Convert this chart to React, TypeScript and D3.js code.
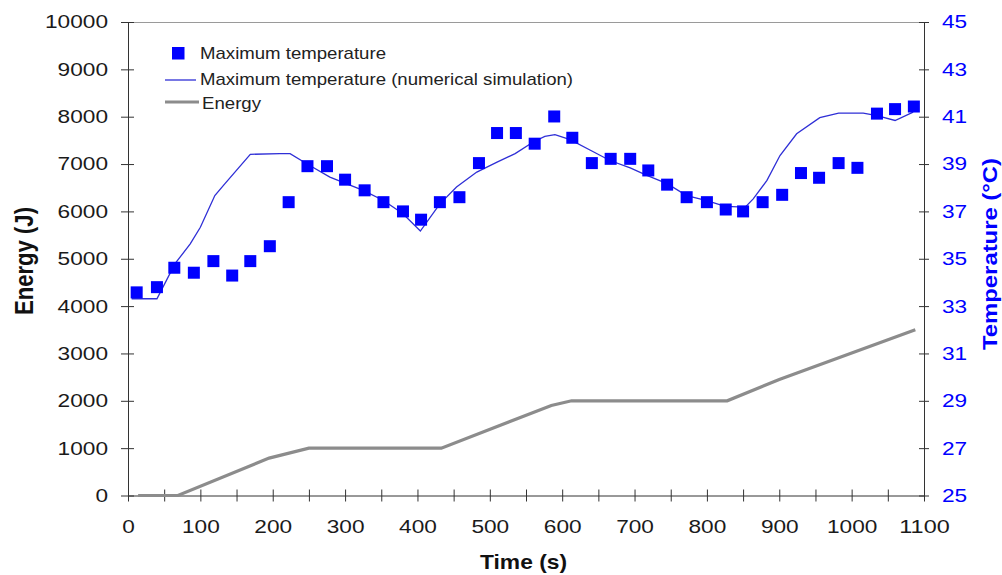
import React, { useEffect, useRef } from 'react';
import * as d3 from 'd3';

// measured maximum temperature (°C) over time (s)
const measTime = [12, 40, 64, 91, 118, 144, 169, 196, 222, 248, 275, 300, 327, 353, 380, 405, 431, 458, 485, 510, 536, 562, 589, 614, 641, 667, 694, 719, 745, 772, 800, 826, 850, 877, 904, 930, 955, 982, 1008, 1035, 1060, 1086];
const measTemp = [33.58, 33.8, 34.62, 34.41, 34.9, 34.29, 34.9, 35.53, 37.39, 38.91, 38.91, 38.34, 37.89, 37.39, 37.0, 36.65, 37.39, 37.6, 39.04, 40.31, 40.31, 39.86, 41.01, 40.11, 39.04, 39.22, 39.22, 38.73, 38.13, 37.6, 37.39, 37.08, 37.0, 37.39, 37.7, 38.62, 38.42, 39.04, 38.84, 41.13, 41.32, 41.43];

// numerical simulation
const simTime = [5, 40, 65, 86, 100, 120, 134, 169, 210, 224, 247, 279, 325, 353, 380, 404, 431, 454, 482, 510, 535, 560, 576, 590, 611, 641, 666, 694, 717, 745, 772, 800, 825, 853, 864, 883, 901, 924, 956, 982, 1016, 1035, 1060, 1085];
const simTemp = [33.31, 33.31, 34.79, 35.63, 36.33, 37.67, 38.17, 39.41, 39.44, 39.44, 39.01, 38.45, 37.89, 37.46, 36.9, 36.17, 37.32, 38.03, 38.66, 39.08, 39.44, 39.93, 40.17, 40.24, 40.03, 39.55, 39.15, 38.84, 38.52, 38.17, 37.67, 37.46, 37.21, 37.18, 37.53, 38.31, 39.36, 40.28, 40.96, 41.15, 41.15, 41.05, 40.84, 41.19];

// energy (J)
const energyTime = [14, 69, 195, 250, 433, 585, 613, 828, 900, 1088];
const energyValue = [0, 0, 790, 1000, 1000, 1900, 2000, 2000, 2450, 3500];

const energyTicks = [0, 1000, 2000, 3000, 4000, 5000, 6000, 7000, 8000, 9000, 10000];
const tempTicks = [25, 27, 29, 31, 33, 35, 37, 39, 41, 43, 45];
const timeTicks = [0, 50, 100, 150, 200, 250, 300, 350, 400, 450, 500, 550, 600, 650, 700, 750, 800, 850, 900, 950, 1000, 1050, 1100];

const W = 1002, H = 575;
const margin = { top: 22, right: 78, bottom: 79.5, left: 128 };
const font = '"Liberation Sans", Arial, Helvetica, sans-serif';
const blue = '#0000ff';

const App = () => {
    const svgRef = useRef<SVGSVGElement>(null);

    useEffect(() => {
        const svg = d3.select(svgRef.current);
        svg.selectAll('*').remove();

        const x = d3.scaleLinear().domain([0, 1100]).range([margin.left, W - margin.right]);
        const yE = d3.scaleLinear().domain([0, 10000]).range([H - margin.bottom, margin.top]);
        const yT = d3.scaleLinear().domain([25, 45]).range([H - margin.bottom, margin.top]);

        const stretch = (sel: any, w: number) =>
            sel.filter(function (this: any) { return this.textContent.length > 0; })
                .attr('textLength', function (this: any) { return this.textContent.length * w; })
                .attr('lengthAdjust', 'spacingAndGlyphs');

        // top border
        svg.append('line')
            .attr('x1', x(0)).attr('x2', x(1100))
            .attr('y1', margin.top + 0.5).attr('y2', margin.top + 0.5)
            .attr('stroke', '#9a9a9a');

        // left axis
        const gL = svg.append('g')
            .attr('transform', `translate(${margin.left},0)`)
            .call(d3.axisLeft(yE).tickValues(energyTicks).tickSizeOuter(0).tickSizeInner(7).tickFormat(d3.format('d')));
        gL.attr('font-size', 18.5).attr('font-family', font);
        gL.select('.domain').attr('stroke', '#333');
        gL.selectAll('.tick line').attr('x1', 6).attr('stroke', '#333');
        stretch(gL.selectAll('.tick text').attr('x', -20).attr('fill', '#1a1a1a'), 12.6);

        // right axis
        const gR = svg.append('g')
            .attr('transform', `translate(${W - margin.right},0)`)
            .call(d3.axisRight(yT).tickValues(tempTicks).tickSizeOuter(0).tickSizeInner(5));
        gR.attr('font-size', 18.5).attr('font-family', font);
        gR.select('.domain').attr('stroke', '#333');
        gR.selectAll('.tick line').attr('x1', -5).attr('stroke', '#333');
        stretch(gR.selectAll('.tick text').attr('x', 18).attr('fill', blue), 12.6);

        // bottom axis
        const gB = svg.append('g')
            .attr('transform', `translate(0,${H - margin.bottom})`)
            .call(d3.axisBottom(x).tickValues(timeTicks).tickSizeOuter(0).tickSizeInner(6)
                .tickFormat((d: any) => (d % 100 === 0 ? String(d) : '')));
        gB.attr('font-size', 18.5).attr('font-family', font);
        gB.select('.domain').attr('stroke', '#333');
        gB.selectAll('.tick line').attr('y1', -6).attr('stroke', '#333');
        stretch(gB.selectAll('.tick text').attr('y', 24.5).attr('fill', '#1a1a1a'), 12.6);

        // energy line
        const energy = energyTime.map((t, i) => [t, energyValue[i]] as [number, number]);
        svg.append('path')
            .datum(energy)
            .attr('d', d3.line<[number, number]>().x(d => x(d[0])).y(d => yE(d[1])))
            .attr('fill', 'none')
            .attr('stroke', '#8c8c8c')
            .attr('stroke-width', 3.2);

        // simulation line
        const sim = simTime.map((t, i) => [t, simTemp[i]] as [number, number]);
        svg.append('path')
            .datum(sim)
            .attr('d', d3.line<[number, number]>().x(d => x(d[0])).y(d => yT(d[1])))
            .attr('fill', 'none')
            .attr('stroke', '#2f2fd6')
            .attr('stroke-width', 1.3);

        // measured squares
        const meas = measTime.map((t, i) => [t, measTemp[i]] as [number, number]);
        svg.append('g')
            .selectAll('rect')
            .data(meas)
            .enter()
            .append('rect')
            .attr('x', d => x(d[0]) - 6)
            .attr('y', d => yT(d[1]) - 6)
            .attr('width', 12)
            .attr('height', 12)
            .attr('fill', blue);

        // legend
        const lg = svg.append('g').attr('font-family', font).attr('font-size', 17).attr('fill', '#222');
        lg.append('rect').attr('x', 172).attr('y', 47).attr('width', 12.5).attr('height', 12.5).attr('fill', blue);
        lg.append('line').attr('x1', 165).attr('x2', 196).attr('y1', 80).attr('y2', 80)
            .attr('stroke', '#2f2fd6').attr('stroke-width', 1.3);
        lg.append('line').attr('x1', 165).attr('x2', 199).attr('y1', 102).attr('y2', 102)
            .attr('stroke', '#8c8c8c').attr('stroke-width', 3.2);
        lg.append('text').attr('x', 200).attr('y', 53).attr('dy', '0.35em')
            .attr('textLength', 186).attr('lengthAdjust', 'spacingAndGlyphs')
            .text('Maximum temperature');
        lg.append('text').attr('x', 200).attr('y', 79).attr('dy', '0.35em')
            .attr('textLength', 373).attr('lengthAdjust', 'spacingAndGlyphs')
            .text('Maximum temperature (numerical simulation)');
        lg.append('text').attr('x', 202).attr('y', 103).attr('dy', '0.35em')
            .attr('textLength', 59).attr('lengthAdjust', 'spacingAndGlyphs')
            .text('Energy');

        // axis titles
        svg.append('text')
            .attr('transform', 'translate(523.5,569)')
            .attr('text-anchor', 'middle')
            .attr('font-family', font).attr('font-weight', 'bold').attr('font-size', 21)
            .attr('textLength', 87).attr('lengthAdjust', 'spacingAndGlyphs')
            .attr('fill', '#111')
            .text('Time (s)');

        svg.append('text')
            .attr('transform', 'translate(33,261) scale(1.25,1) rotate(-90)')
            .attr('text-anchor', 'middle')
            .attr('font-family', font).attr('font-weight', 'bold').attr('font-size', 21)
            .attr('textLength', 108).attr('lengthAdjust', 'spacingAndGlyphs')
            .attr('fill', '#111')
            .text('Energy (J)');

        svg.append('text')
            .attr('transform', 'translate(997,254) rotate(-90)')
            .attr('text-anchor', 'middle')
            .attr('font-family', font).attr('font-weight', 'bold').attr('font-size', 20)
            .attr('textLength', 192).attr('lengthAdjust', 'spacingAndGlyphs')
            .attr('fill', blue)
            .text('Temperature (°C)');
    }, []);

    return (
        <svg
            ref={svgRef}
            width={W}
            height={H}
            style={{ position: 'absolute', left: 0, top: 0, background: '#fff' }}
        />
    );
};

export default App;
